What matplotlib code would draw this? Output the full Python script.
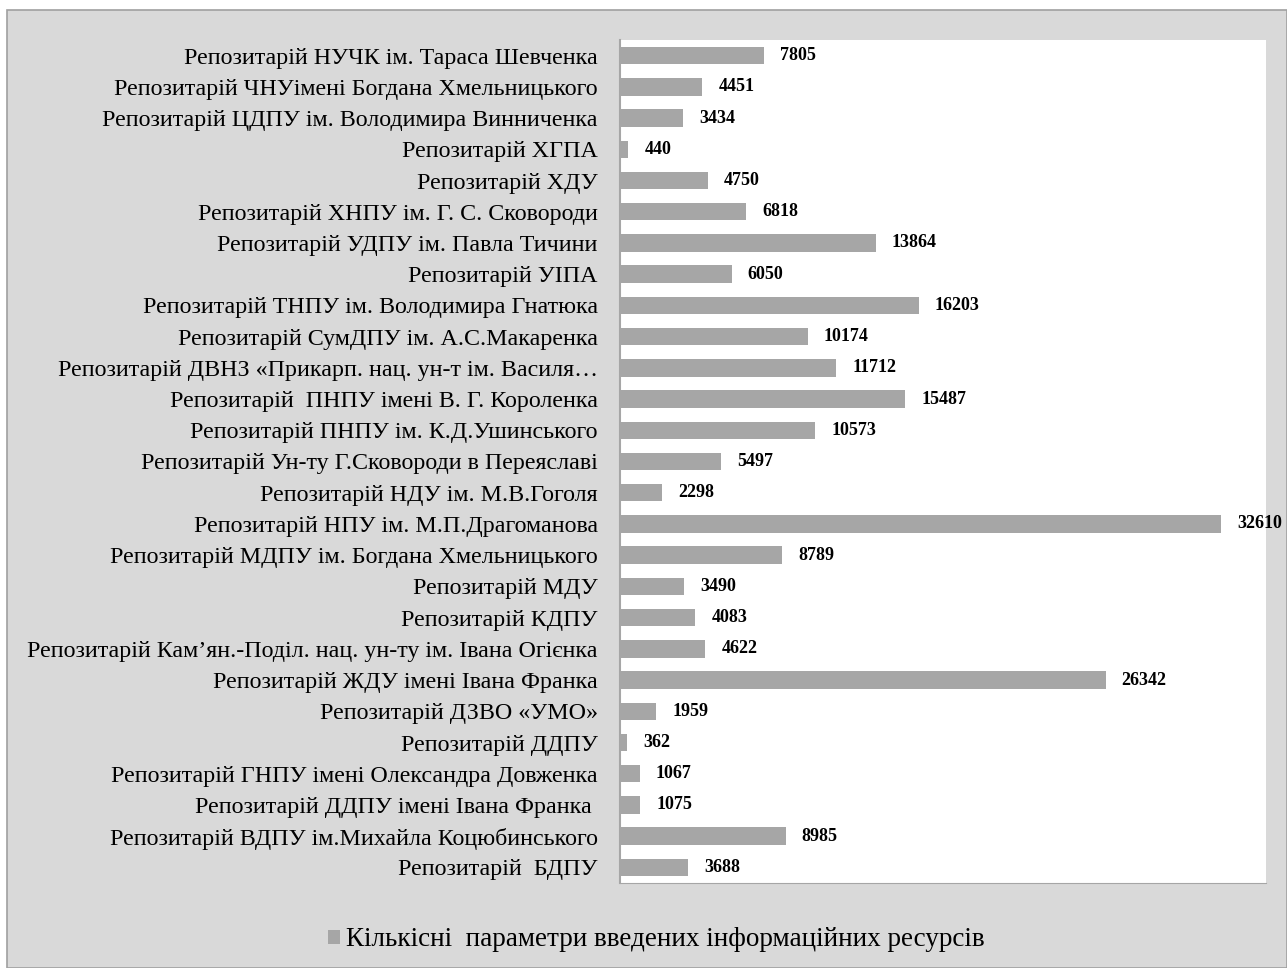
import matplotlib.pyplot as plt
from matplotlib.patches import Rectangle

# categories listed top to bottom as in the chart
names = [
    'Репозитарій НУЧК ім. Тараса Шевченка',
    'Репозитарій ЧНУімені Богдана Хмельницького',
    'Репозитарій ЦДПУ ім. Володимира Винниченка',
    'Репозитарій ХГПА',
    'Репозитарій ХДУ',
    'Репозитарій ХНПУ ім. Г. С. Сковороди',
    'Репозитарій УДПУ ім. Павла Тичини',
    'Репозитарій УІПА',
    'Репозитарій ТНПУ ім. Володимира Гнатюка',
    'Репозитарій СумДПУ ім. А.С.Макаренка',
    'Репозитарій ДВНЗ «Прикарп. нац. ун-т ім. Василя…',
    'Репозитарій  ПНПУ імені В. Г. Короленка',
    'Репозитарій ПНПУ ім. К.Д.Ушинського',
    'Репозитарій Ун-ту Г.Сковороди в Переяславі',
    'Репозитарій НДУ ім. М.В.Гоголя',
    'Репозитарій НПУ ім. М.П.Драгоманова',
    'Репозитарій МДПУ ім. Богдана Хмельницького',
    'Репозитарій МДУ',
    'Репозитарій КДПУ',
    'Репозитарій Кам\u2019ян.-Поділ. нац. ун-ту ім. Івана Огієнка',
    'Репозитарій ЖДУ імені Івана Франка',
    'Репозитарій ДЗВО «УМО»',
    'Репозитарій ДДПУ',
    'Репозитарій ГНПУ імені Олександра Довженка',
    'Репозитарій ДДПУ імені Івана Франка ',
    'Репозитарій ВДПУ ім.Михайла Коцюбинського',
    'Репозитарій  БДПУ',
]
values = [7805, 4451, 3434, 440, 4750, 6818, 13864, 6050, 16203, 10174,
          11712, 15487, 10573, 5497, 2298, 32610, 8789, 3490, 4083, 4622,
          26342, 1959, 362, 1067, 1075, 8985, 3688]

legend_label = 'Кількісні  параметри введених інформаційних ресурсів'

plt.rcParams['font.family'] = ['Liberation Serif', 'DejaVu Serif']

fig = plt.figure(figsize=(12.87, 9.68), dpi=100)
fig.patch.set_facecolor('white')
# grey chart area with thin border
fig.patches.append(Rectangle((7 / 1287, 0), 1 - 7 / 1287, 1 - 10 / 968,
                             transform=fig.transFigure, facecolor='#d9d9d9',
                             edgecolor='#a0a0a0', linewidth=1.2, zorder=-1))

ax = fig.add_axes([620 / 1287, 1 - 883 / 968, 646 / 1287, 843 / 968])
ax.set_facecolor('white')

n = len(names)
pos = list(range(n))[::-1]
bars = ax.barh(pos, values, height=0.56, color='#a6a6a6', label=legend_label)

for p, v in zip(pos, values):
    ax.text(v + 880, p, str(v), va='center', ha='left', fontsize=13,
            fontweight='bold', clip_on=False)

ax.set_yticks(pos)
ax.set_yticklabels(names, fontsize=17.3)
ax.set_ylim(-0.5, n - 0.5)
ax.set_xlim(0, 35050)
ax.set_xticks([])
ax.tick_params(axis='y', length=0, pad=16)

for s in ['top', 'right', 'bottom', 'left']:
    ax.spines[s].set_color('#a6a6a6')
ax.spines['left'].set_linewidth(1.5)
ax.spines['top'].set_visible(False)
ax.spines['right'].set_visible(False)
ax.spines['bottom'].set_linewidth(0.8)

fig.legend(handles=[bars], labels=[legend_label], loc='center',
           bbox_to_anchor=(0.51, 1 - 940 / 968), frameon=False, fontsize=19.5,
           handlelength=0.45, handleheight=0.45, handletextpad=0.2)

fig.savefig('out.png', dpi=100, facecolor=fig.get_facecolor())
